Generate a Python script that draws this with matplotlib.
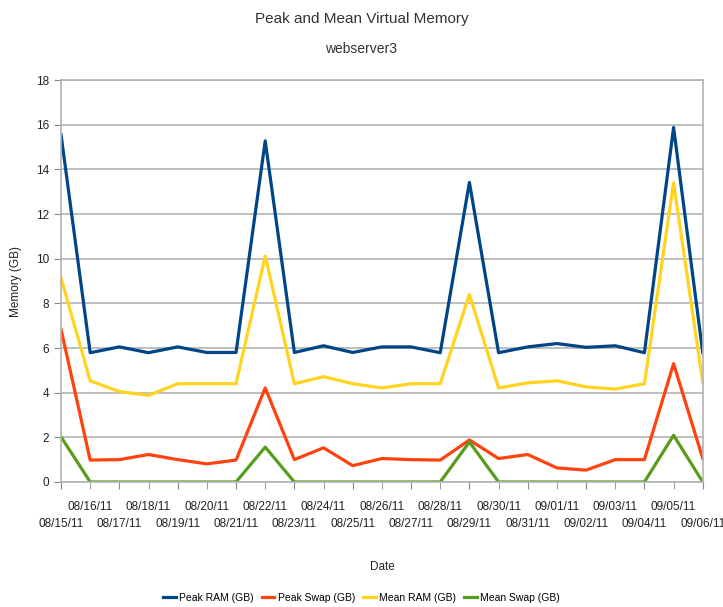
import matplotlib
matplotlib.use("Agg")
import matplotlib.pyplot as plt

dates = ['08/15/11', '08/16/11', '08/17/11', '08/18/11', '08/19/11', '08/20/11',
         '08/21/11', '08/22/11', '08/23/11', '08/24/11', '08/25/11', '08/26/11',
         '08/27/11', '08/28/11', '08/29/11', '08/30/11', '08/31/11', '09/01/11',
         '09/02/11', '09/03/11', '09/04/11', '09/05/11', '09/06/11']

peak_ram = [15.56, 5.79, 6.05, 5.79, 6.05, 5.8, 5.8, 15.28, 5.8, 6.1, 5.8, 6.05,
            6.05, 5.79, 13.42, 5.79, 6.05, 6.2, 6.03, 6.1, 5.79, 15.88, 5.79]
peak_swap = [6.84, 0.98, 1.0, 1.23, 1.0, 0.81, 0.98, 4.21, 1.0, 1.53, 0.73, 1.05,
             1.0, 0.98, 1.88, 1.05, 1.23, 0.63, 0.53, 1.0, 1.0, 5.3, 1.05]
mean_ram = [9.14, 4.53, 4.05, 3.88, 4.4, 4.4, 4.4, 10.12, 4.4, 4.72, 4.4, 4.21,
            4.4, 4.4, 8.4, 4.21, 4.44, 4.53, 4.26, 4.16, 4.4, 13.4, 4.46]
mean_swap = [2.02, 0, 0, 0, 0, 0, 0, 1.56, 0, 0, 0, 0,
             0, 0, 1.79, 0, 0, 0, 0, 0, 0, 2.09, 0]

plt.rcParams['font.family'] = ['Liberation Sans', 'DejaVu Sans']

fig = plt.figure(figsize=(7.23, 6.07), dpi=100)
ax = fig.add_axes([0.0844, 0.206, 0.8876, 0.662])

x = list(range(len(dates)))
ax.plot(x, peak_ram, color='#004586', lw=2.3, label='Peak RAM (GB)')
ax.plot(x, peak_swap, color='#ff420e', lw=2.3, label='Peak Swap (GB)')
ax.plot(x, mean_ram, color='#ffd320', lw=2.3, label='Mean RAM (GB)')
ax.plot(x, mean_swap, color='#579d1c', lw=2.3, label='Mean Swap (GB)')

ax.set_xlim(0, len(dates) - 1)
ax.set_ylim(0, 18)
ax.set_yticks(range(0, 19, 2))

# staggered date labels: even dates on the lower row, odd dates on the upper row
ax.set_xticks(x[0::2])
ax.set_xticklabels(dates[0::2], fontsize=8.5, color='#222222')
ax.set_xticks(x[1::2], minor=True)
ax.set_xticklabels(dates[1::2], minor=True, fontsize=8.5, color='#222222')
ax.tick_params(axis='x', which='major', colors='#888888', labelcolor='#222222',
               length=5, pad=21)
ax.tick_params(axis='x', which='minor', colors='#888888', labelcolor='#222222',
               length=5, pad=9)
ax.tick_params(axis='y', labelsize=8.5, colors='#888888', labelcolor='#222222', length=5)

ax.grid(axis='y', color='#b3b3b3', lw=1.2)
ax.set_axisbelow(True)
for s in ax.spines.values():
    s.set_color('#b3b3b3')
    s.set_linewidth(1.2)

ax.set_ylabel('Memory (GB)', fontsize=8.5, color='#222222', labelpad=10)
ax.set_xlabel('Date', fontsize=8.5, color='#222222', labelpad=22)

fig.text(0.5, 0.968, 'Peak and Mean Virtual Memory', ha='center', va='center',
         fontsize=11, color='#333333')
fig.text(0.5, 0.92, 'webserver3', ha='center', va='center', fontsize=10, color='#333333')

fig.legend(loc='center', bbox_to_anchor=(0.5, 0.015), ncol=4, frameon=False,
           fontsize=7.5, handlelength=1.2, handletextpad=0.3, columnspacing=0.8)

fig.savefig('out.png', dpi=100, facecolor='white')
